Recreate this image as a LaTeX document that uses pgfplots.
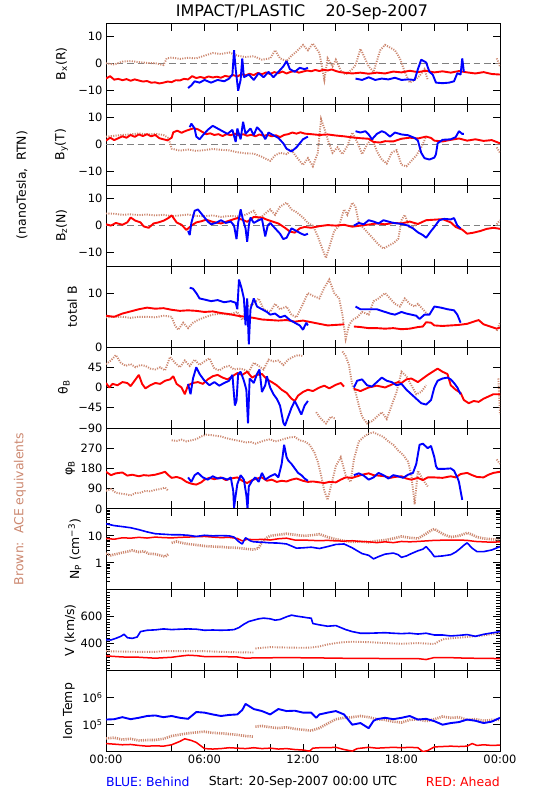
\documentclass[border=0pt]{standalone}
\usepackage{fontspec}
\setmainfont{DejaVu Sans}
\usepackage{pgfplots}
\pgfplotsset{compat=1.18}
\definecolor{acebrown}{RGB}{204,136,112}
\newcommand{\tfs}{\fontsize{11.5}{12}\selectfont}
\newcommand{\lfs}{\fontsize{12.5}{13}\selectfont}
\pgfplotsset{
  panel/.style={
    scale only axis, width=394bp, height=80.93bp, anchor=south west,
    xmin=0, xmax=24, xtick={0,6,12,18,24}, xticklabels={},
    extra x ticks={4,8,10,14,16,20,22}, extra x tick labels={},
    tick align=inside, major tick length=7.5bp, minor tick length=4bp,
    axis line style={line width=0.8bp},
    tick style={black, line width=0.8bp},
    tick label style={font=\tfs},
    ylabel style={font=\lfs, anchor=center},
    unbounded coords=jump, clip=true,
  },
  R/.style={red, line width=1.9bp, line join=bevel},
  B/.style={blue, line width=1.9bp, line join=bevel},
  Rt/.style={red, line width=1.5bp, line join=bevel},
  Bt/.style={blue, line width=1.6bp, line join=bevel},
  Br/.style={acebrown, line width=1.9bp, dash pattern=on 1.1bp off 1.3bp},
  Brw/.style={acebrown, line width=2.6bp, dash pattern=on 1.1bp off 1.1bp},
  Z/.style={gray, line width=0.8bp, dash pattern=on 6.5bp off 4bp},
}
\begin{document}
\begin{tikzpicture}
\path[use as bounding box] (0,0) rectangle (550bp,800bp);

% ---------------- Bx
\begin{axis}[panel, at={(106bp,695.77bp)}, ymin=-15, ymax=15, ytick={-10,0,10}, yticklabels={−10,0,10},
  ylabel={B\textsubscript{x}(R)}, ylabel style={at={(axis description cs:-0.113,0.5)}}]
\addplot[Z] coordinates {(0,0)(24,0)};
\addplot[Br] coordinates {(0,0.2)(0.5,-0.3)(1,0.8)(1.5,1)(2,0.6)(2.5,0.3)(3,0.2)(3.5,-0.5)(3.7,2)(4,2.3)(4.5,1.8)(5,2.2)(5.5,2)(6,3)(6.5,4)(7,3.6)(7.5,4.2)(8,3)(8.5,2.5)(9,2.8)(9.5,1.5)(10,2)(10.3,5)(10.6,2)(11,1)(11.3,3)(11.6,4.5)(12,7)(12.3,5)(12.6,7.5)(13,4)(13.3,-6)(13.5,2)(13.8,-1)(14,1.5)(14.3,-2.5)(14.6,-4)(15,-2)(15.2,-0.5)(15.5,5.5)(15.7,3)(16,-1)(16.3,-3)(16.7,5)(17,7)(17.3,6)(17.6,5)(17.9,2)(18.2,-3)(18.5,-7)(18.8,-6)(19.1,-4.5)(19.4,-2)(19.6,-6)(19.7,nan)(23.8,2)(24,-1)};
\addplot[R] coordinates {(0,-5.5)(0.25,-4.6)(0.5,-5.9)(0.75,-5.6)(1,-6.1)(1.25,-5.7)(1.5,-6.3)(1.75,-5.8)(2,-6.2)(2.25,-6.6)(2.5,-6.4)(2.75,-7)(3,-6.9)(3.25,-7.3)(3.5,-7)(3.75,-6.6)(4,-6.8)(4.25,-6.1)(4.5,-6.2)(4.75,-5.6)(5,-5.8)(5.25,-4.6)(5.5,-5.3)(5.75,-4.9)(6,-5.3)(6.25,-4.7)(6.5,-5.1)(6.75,-4.8)(7,-5.2)(7.25,-4.5)(7.5,-4.8)(7.75,-4.2)(8,-4.7)(8.25,-3.9)(8.5,-4.3)(8.75,-3.7)(9,-4.2)(9.25,-3.4)(9.5,-3.9)(9.75,-3.2)(10,-3.8)(10.25,-3.1)(10.5,-3.5)(10.75,-2.9)(11,-3.6)(11.25,-3)(11.5,-2.7)(11.75,-3.3)(12,-2.9)(12.25,-2.5)(12.5,-2.8)(12.75,-2.3)(13,-2.7)(13.25,-2.2)(13.5,-2.5)(13.75,-2.1)(14,-2.7)(14.25,-3.1)(14.5,-3.3)(15,-3.6)(15.5,-3.3)(16,-3.7)(16.5,-3.3)(17,-3.6)(17.5,-2.9)(18,-3.2)(18.5,-2.6)(19,-3.1)(19.5,-2.6)(20,-3.2)(20.5,-2.8)(21,-3.3)(21.5,-2.7)(22,-3.2)(22.5,-3.6)(23,-3.1)(23.5,-3.8)(24,-4)};
\addplot[B] coordinates {(5.0,-9)(5.2,-8)(5.4,-6.5)(5.7,-7)(6,-6)(6.4,-7)(6.8,-6)(7.2,-6.5)(7.5,-5.5)(7.7,-4)(7.8,5)(7.9,-2)(8.05,-10)(8.2,-6)(8.3,2)(8.4,-5)(8.7,-4)(9,-6)(9.3,-3.5)(9.6,-5)(9.9,-3)(10.2,-5)(10.5,-3)(10.8,-1)(11,1)(11.2,-2)(11.5,-3)(11.8,-1.5)(12.1,-2)(12.3,-1.5)(12.4,nan)(15.2,-5.5)(15.6,-6)(16,-5)(16.4,-6)(16.8,-5.5)(17.2,-5.8)(17.6,-5.2)(18,-6)(18.4,-5.8)(18.8,-6)(19,-2)(19.2,1.5)(19.5,0.5)(19.7,-3)(19.9,-4)(20.1,-7)(20.5,-7.2)(20.9,-7)(21.2,-6.5)(21.4,-3.5)(21.6,-4)(21.7,2)(21.8,-3)};
\end{axis}

% ---------------- By
\begin{axis}[panel, at={(106bp,614.84bp)}, ymin=-15, ymax=15, ytick={-10,0,10}, yticklabels={−10,0,10},
  ylabel={B\textsubscript{y}(T)}, ylabel style={at={(axis description cs:-0.113,0.5)}}]
\addplot[Z] coordinates {(0,0)(24,0)};
\addplot[Br] coordinates {(0,3)(0.5,3.3)(1,3.6)(1.5,3.8)(2,4.2)(2.5,3.8)(3,4)(3.5,3.6)(3.8,2.5)(4,-1.5)(4.5,-2.2)(5,-1.8)(5.5,-2.3)(6,-2)(6.5,-1.6)(7,-1.9)(7.5,-2.1)(8,-2.8)(8.5,-3.2)(9,-3.3)(9.5,-4.5)(10,-6)(10.3,-4)(10.6,-3)(11,-3.5)(11.3,-2)(11.6,-4.5)(12,-7.5)(12.3,-5)(12.6,-8)(12.9,-3)(13.1,9.5)(13.3,6)(13.5,2)(13.8,-3)(14.1,-1)(14.4,-3.5)(14.7,-0.5)(15,4.5)(15.3,1)(15.6,-3.5)(15.9,0)(16.2,2.5)(16.5,-2.5)(16.8,-5.5)(17.1,-7)(17.4,-3)(17.7,-2)(18,-7.5)(18.3,-8)(18.6,-6)(18.9,-4)(19.2,-1)(19.5,3)(19.6,nan)(23.8,-1)(24,-3)};
\addplot[R] coordinates {(0,1.5)(0.25,2.6)(0.5,1.7)(0.75,2.4)(1,3.1)(1.25,2.6)(1.5,3.6)(1.75,2.9)(2,3.8)(2.25,3.2)(2.5,3.9)(2.75,3.1)(3,3.6)(3.25,2.4)(3.5,2)(3.75,1.6)(4,2.6)(4.1,4.6)(4.35,5.2)(4.6,4.4)(4.85,5.1)(5.1,5.6)(5.35,6.1)(5.6,5.7)(5.85,4.8)(6.1,3.9)(6.35,4.2)(6.6,3.6)(6.85,3.9)(7.1,3.2)(7.35,3.9)(7.6,3.5)(7.85,4.1)(8.1,3.4)(8.35,3.9)(8.6,3.3)(8.85,3.7)(9.1,3.1)(9.35,3.8)(9.6,3.3)(9.85,3.6)(10.1,3.1)(10.35,3.5)(10.6,2.8)(10.85,3.6)(11.1,3.9)(11.35,4.5)(11.6,4.1)(11.85,4.6)(12.1,4.1)(12.5,3.9)(13,3.6)(13.5,3.8)(14,3.4)(14.5,3.1)(15,2.7)(15.5,2.4)(16,2.2)(16.3,1)(16.7,0.8)(17,1.3)(17.5,1.2)(18,2.2)(18.5,2.6)(19,2.3)(19.5,3)(19.8,2.5)(20,1.5)(20.5,1.2)(21,1.8)(21.5,2.3)(22,1.5)(22.5,2)(23,1.4)(23.5,1.7)(24,0.5)};
\addplot[B] coordinates {(5.1,6.5)(5.2,7.8)(5.4,6)(5.5,3)(5.7,2)(5.9,3.5)(6.2,5.5)(6.5,7)(6.8,6)(7.1,5)(7.4,4)(7.7,5.5)(7.9,1)(8.0,6)(8.2,2)(8.35,8.5)(8.5,4)(8.8,6)(9,3.5)(9.2,6.5)(9.5,4.5)(9.7,2)(9.9,4.5)(10.2,3.5)(10.5,2.5)(10.8,0.5)(11,-1.5)(11.3,-2.5)(11.6,-1)(11.8,0.5)(12,2)(12.3,3)(12.4,nan)(15.2,5)(15.5,4.5)(15.8,5)(16,3.8)(16.2,2)(16.5,4)(16.8,5)(17,4.5)(17.3,3)(17.6,4.5)(18,3.8)(18.4,3.5)(18.8,2.5)(19,1.5)(19.2,-3)(19.4,-5)(19.7,-5.5)(20,-4.8)(20.1,-3.5)(20.2,0.5)(20.5,1.8)(21,2)(21.3,2.8)(21.5,5)(21.7,4)(21.8,4)};
\end{axis}

% ---------------- Bz
\begin{axis}[panel, at={(106bp,533.91bp)}, ymin=-15, ymax=15, ytick={-10,0,10}, yticklabels={−10,0,10},
  ylabel={B\textsubscript{z}(N)}, ylabel style={at={(axis description cs:-0.113,0.5)}}]
\addplot[Z] coordinates {(0,0)(24,0)};
\addplot[Br] coordinates {(0,4.5)(0.5,4.4)(1,4)(1.5,4.2)(2,3.9)(2.5,4.1)(3,3.8)(3.5,4)(4,3.5)(4.5,3.8)(5,4.1)(5.5,3.6)(6,3.5)(6.5,3.8)(7,3.2)(7.5,3.6)(8,3.4)(8.5,4)(9,5.5)(9.3,2)(9.6,4)(10,6)(10.3,4)(10.6,7)(11,8.5)(11.3,6)(11.6,5)(12,3)(12.3,1)(12.6,0)(12.9,-4)(13.2,-9)(13.4,-12)(13.6,-8)(13.9,-2)(14.2,0)(14.5,6)(14.7,4)(15,8.5)(15.2,7)(15.4,1)(15.7,-1)(16,-3)(16.3,-5)(16.6,-7)(16.9,-8.5)(17.2,-7.5)(17.5,-6.5)(17.8,-5)(18,2)(18.2,4)(18.5,-1)(18.8,0)(19,1)(19.1,nan)(23.8,0.5)(24,2)};
\addplot[R] coordinates {(0,0.5)(0.3,0)(0.6,1)(1,0.3)(1.3,1.2)(1.5,3)(1.8,1.8)(2.1,1.2)(2.3,-0.3)(2.6,-0.8)(2.9,0.8)(3.2,1.2)(3.5,1.8)(3.8,2.8)(4,3.8)(4.3,1.2)(4.6,0.3)(4.9,-1.6)(5.2,0)(5.5,1.2)(5.8,1.6)(6.1,2.2)(6.5,1.4)(7,0.8)(7.5,1.8)(8,2.8)(8.3,2.2)(8.6,1.4)(9,3.2)(9.5,3)(9.8,2.2)(10.1,1.6)(10.5,0.8)(10.9,-0.8)(11.2,-2.2)(11.5,-2.6)(11.8,-1)(12.1,-0.5)(12.5,-0.8)(13,-0.2)(13.5,0.2)(14,0)(14.5,0.3)(15,-0.4)(15.5,0)(16,0.4)(16.5,0.8)(17,0.5)(17.5,1)(18,0.8)(18.5,1.5)(19,0.6)(19.5,2)(20,2.2)(20.5,2.4)(21,1.2)(21.3,-0.5)(21.7,-1.5)(22,-3)(22.4,-2.6)(22.8,-2)(23.2,-1.2)(23.6,-0.8)(24,-1.2)};
\addplot[B] coordinates {(5.0,-2)(5.1,-3.5)(5.2,1)(5.4,5.5)(5.6,6)(5.8,4.5)(6,3)(6.2,1.5)(6.4,0.5)(6.7,1)(7,2)(7.3,1)(7.6,1.5)(7.8,0)(7.95,-5)(8.05,1)(8.2,6)(8.35,2)(8.5,-1)(8.6,-6)(8.7,0)(8.8,3)(9,1)(9.3,2)(9.5,2.5)(9.7,-4)(9.85,0)(10,1)(10.3,-1)(10.6,-3)(10.8,-5)(11,-4.5)(11.3,-1)(11.6,-2)(11.9,-3)(12.1,-3.5)(12.3,-3)(12.4,nan)(15.1,0)(15.4,1)(15.7,0.5)(16,2)(16.3,1.5)(16.6,0.8)(16.9,2)(17.2,1.5)(17.5,1)(17.8,0.8)(18.1,0.5)(18.4,0)(18.7,-1)(19,-2.5)(19.3,-3.5)(19.5,-4.5)(19.8,-2)(20,-0.5)(20.3,2)(20.6,2.5)(21,2.3)(21.2,2.8)(21.4,0)(21.6,-1)};
\end{axis}

% ---------------- total B
\begin{axis}[panel, at={(106bp,452.98bp)}, ymin=0, ymax=15, ytick={0,10}, yticklabels={0,10},
  ylabel={total B}, ylabel style={at={(axis description cs:-0.086,0.5)}}]
\addplot[Br] coordinates {(0,5.5)(0.5,5.6)(1,5.6)(1.5,5.4)(2,5.6)(2.5,5.6)(3,5.5)(3.5,5.8)(4,5.6)(4.2,4)(4.4,3.2)(4.7,4.5)(5,3.5)(5.3,4.5)(5.6,5)(6,5.5)(6.5,6)(7,6.2)(7.5,6)(8,6.5)(8.3,5)(8.6,7.5)(9,8)(9.3,9)(9.6,7)(10,6.5)(10.3,8)(10.6,7)(11,7.5)(11.3,6)(11.6,5.5)(12,8)(12.3,10)(12.6,9.5)(13,9)(13.3,11)(13.6,12.5)(13.9,10)(14.2,9)(14.4,6)(14.6,1.5)(14.8,4)(15,5)(15.3,5.5)(15.6,6.5)(16,6)(16.3,8.5)(16.6,9)(17,10)(17.3,9)(17.6,8)(17.9,7.5)(18.2,9)(18.5,8)(18.8,7.5)(19,8)(19.3,7)(19.6,6)(19.7,nan)(23.8,3)(24,4.5)};
\addplot[R] coordinates {(0,5.8)(0.5,5.6)(1,6.2)(1.5,6.6)(2,7)(2.5,7.3)(3,7.1)(3.5,7.2)(4,6.9)(4.5,6.7)(5,6.8)(5.5,6.7)(6,6.5)(6.5,6.6)(7,6.3)(7.5,6.1)(8,5.8)(8.5,5.6)(9,5.4)(9.5,5.1)(10,5)(10.5,4.9)(11,5)(11.5,4.7)(12,4.9)(12.5,4.6)(13,4.3)(13.5,4)(14,4.1)(14.5,4.2)(14.6,nan)(15.1,3.8)(15.5,3.7)(16,3.5)(16.5,3.5)(17,3.4)(17.5,3.5)(18,3.3)(18.5,3.4)(19,3.7)(19.3,3.8)(19.5,4.6)(19.8,4.5)(20,4)(20.5,3.9)(21,4)(21.5,4.1)(22,4.3)(22.3,4.6)(22.7,5)(23,4.2)(23.4,3.8)(23.8,3.4)(24,3.6)};
\addplot[B] coordinates {(5.1,11)(5.3,10.8)(5.5,10)(5.7,9)(6,8.8)(6.4,8.5)(6.8,8.7)(7.2,8.3)(7.6,8.5)(7.9,8.2)(8.0,7)(8.1,12.5)(8.25,11)(8.4,9)(8.5,4)(8.6,9)(8.7,0.5)(8.8,7)(9,9)(9.2,7.5)(9.5,7)(9.8,6.5)(10,6)(10.3,6.2)(10.6,5.5)(10.9,5.8)(11.2,5)(11.5,4.5)(11.8,4)(12,3.2)(12.2,4.5)(12.3,4)(12.4,nan)(15.2,7.5)(15.5,7)(16,7)(16.5,7)(17,6.5)(17.3,6.2)(17.6,6)(18,6.5)(18.3,6.2)(18.6,6)(18.9,5.8)(19.1,5.2)(19.4,6)(19.7,6)(20,7.5)(20.4,7.3)(20.8,7)(21.2,6.8)(21.4,6)(21.6,4.5)};
\end{axis}

% ---------------- theta
\begin{axis}[panel, at={(106bp,372.05bp)}, ymin=-90, ymax=90, ytick={-90,-45,0,45}, yticklabels={−90,−45,0,45},
  ylabel={θ\textsubscript{B}}, ylabel style={at={(axis description cs:-0.107,0.5)}}]
\addplot[Br] coordinates {(0,52)(0.3,60)(0.6,72)(0.9,55)(1.2,48)(1.5,52)(1.8,45)(2.1,50)(2.4,48)(2.7,42)(3,40)(3.3,45)(3.6,38)(3.9,68)(4.2,55)(4.5,45)(4.8,60)(5.1,48)(5.4,62)(5.7,50)(6,58)(6.3,65)(6.6,42)(6.9,38)(7.2,45)(7.5,48)(7.8,40)(8.1,42)(8.4,40)(8.7,35)(9,55)(9.3,48)(9.6,40)(9.9,62)(10.2,58)(10.5,60)(10.8,50)(11.1,62)(11.4,68)(11.7,72)(12,70)(12.2,nan)(12.8,-55)(13.1,-70)(13.4,-80)(13.7,-65)(14,-70)(14.2,nan)(14.4,80)(14.6,70)(14.8,50)(15,5)(15.2,-10)(15.4,-40)(15.6,-65)(15.9,-80)(16.2,-75)(16.5,-65)(16.8,-55)(17.1,-70)(17.4,-40)(17.7,-10)(18,35)(18.3,25)(18.6,5)(18.9,-15)(19.2,-10)(19.5,5)(19.6,nan)(23.9,20)(24,-60)};
\addplot[R] coordinates {(0,10)(0.2,0)(0.4,8)(0.7,5)(1,12)(1.3,10)(1.5,3)(1.8,18)(2,28)(2.2,8)(2.4,-2)(2.7,5)(3,10)(3.3,8)(3.6,15)(3.9,18)(4.1,25)(4.3,8)(4.6,0)(4.8,-15)(5,5)(5.3,10)(5.6,12)(5.9,8)(6.2,18)(6.5,25)(6.8,28)(7.1,22)(7.4,18)(7.7,25)(8,32)(8.3,28)(8.6,35)(8.9,22)(9.2,28)(9.5,30)(9.8,18)(10.1,12)(10.4,5)(10.7,-5)(11,-12)(11.3,-25)(11.5,-30)(11.7,-18)(12,-10)(12.3,-5)(12.6,-8)(13,0)(13.3,4)(13.6,-2)(14,6)(14.3,10)(14.5,2)(14.6,nan)(15.1,-3)(15.5,-8)(16,0)(16.5,4)(17,0)(17.5,8)(17.8,12)(18,10)(18.3,18)(18.6,20)(19,12)(19.3,20)(19.6,28)(19.9,35)(20.2,42)(20.5,35)(20.8,30)(21,5)(21.3,-5)(21.6,-12)(21.8,-28)(22.1,-35)(22.4,-30)(22.7,-32)(23,-25)(23.3,-20)(23.6,-15)(24,-15)};
\addplot[B] coordinates {(5,8)(5.15,-15)(5.3,20)(5.5,45)(5.7,30)(6,15)(6.3,5)(6.6,12)(6.9,4)(7.2,10)(7.5,15)(7.7,28)(7.85,-40)(7.95,-30)(8.05,30)(8.2,35)(8.4,15)(8.55,-5)(8.65,-80)(8.75,20)(9,10)(9.2,30)(9.35,40)(9.5,-10)(9.7,5)(9.8,25)(10,0)(10.2,-15)(10.4,-25)(10.6,-40)(10.8,-78)(10.9,-85)(11.1,-65)(11.3,-45)(11.5,-30)(11.7,-45)(11.9,-60)(12.1,-40)(12.3,-30)(12.4,nan)(15.1,0)(15.3,15)(15.6,18)(15.9,5)(16.2,2)(16.5,12)(16.8,22)(17.1,15)(17.4,12)(17.7,5)(18,8)(18.3,-5)(18.6,-15)(18.9,-25)(19.2,-35)(19.5,-38)(19.8,-28)(20,0)(20.2,15)(20.5,20)(20.8,22)(21,18)(21.2,10)(21.4,0)(21.6,-15)};
\end{axis}

% ---------------- phi
\begin{axis}[panel, at={(106bp,291.12bp)}, ymin=0, ymax=360, ytick={0,90,180,270}, yticklabels={0,90,180,270},
  ylabel={φ\textsubscript{B}}, ylabel style={at={(axis description cs:-0.091,0.5)}}]
\addplot[Br] coordinates {(0,80)(0.3,88)(0.6,72)(0.9,68)(1.2,65)(1.5,60)(1.8,70)(2.1,72)(2.4,80)(2.7,78)(3,85)(3.3,88)(3.6,95)(3.8,80)(3.9,nan)(4,305)(4.3,302)(4.6,308)(4.9,300)(5.2,305)(5.5,310)(5.8,322)(6.1,330)(6.4,328)(6.7,325)(7,322)(7.3,315)(7.6,310)(7.9,305)(8.2,302)(8.5,295)(8.8,298)(9.1,290)(9.4,298)(9.7,305)(10,310)(10.3,300)(10.6,305)(10.9,312)(11.2,318)(11.5,320)(11.8,305)(12.1,300)(12.4,285)(12.7,250)(12.9,210)(13.1,150)(13.3,80)(13.5,40)(13.7,100)(14,190)(14.3,230)(14.6,150)(14.9,120)(15.1,220)(15.4,300)(15.7,320)(16,335)(16.3,340)(16.6,330)(16.9,320)(17.2,300)(17.5,285)(17.8,260)(18.1,240)(18.4,210)(18.6,150)(18.8,20)(19,170)(19.3,130)(19.6,100)(19.7,nan)(23.8,220)(24,200)};
\addplot[R] coordinates {(0,165)(0.3,150)(0.6,158)(1,162)(1.3,148)(1.6,152)(2,145)(2.3,150)(2.6,148)(3,152)(3.3,158)(3.6,165)(3.8,150)(4,138)(4.3,142)(4.6,135)(4.9,120)(5.2,112)(5.5,108)(5.8,118)(6,130)(6.3,138)(6.6,132)(7,140)(7.3,128)(7.6,135)(8,140)(8.3,125)(8.6,115)(8.9,128)(9.2,135)(9.5,140)(9.8,125)(10.1,130)(10.4,120)(10.7,125)(11,122)(11.3,130)(11.6,135)(12,125)(12.3,120)(12.6,122)(13,118)(13.3,115)(13.6,120)(14,118)(14.3,130)(14.6,140)(15,138)(15.3,145)(15.6,152)(16,158)(16.3,150)(16.6,148)(17,145)(17.3,138)(17.6,142)(18,145)(18.3,135)(18.6,130)(19,138)(19.3,128)(19.6,140)(20,140)(20.5,138)(21,145)(21.3,140)(21.6,155)(22,160)(22.3,150)(22.6,142)(23,140)(23.3,152)(23.6,160)(24,165)};
\addplot[B] coordinates {(5,140)(5.2,120)(5.4,150)(5.6,160)(5.9,140)(6.2,130)(6.5,145)(6.8,135)(7.1,138)(7.4,130)(7.6,140)(7.75,80)(7.8,5)(7.9,60)(8,110)(8.2,150)(8.4,130)(8.55,60)(8.62,0)(8.7,100)(8.9,125)(9.1,140)(9.3,120)(9.5,160)(9.7,130)(10,145)(10.3,155)(10.5,140)(10.7,200)(10.85,285)(11,230)(11.1,215)(11.3,200)(11.5,180)(11.7,160)(11.9,150)(12.1,135)(12.3,125)(12.4,nan)(15.1,150)(15.4,158)(15.7,148)(16,130)(16.3,140)(16.6,160)(16.9,150)(17.2,135)(17.5,150)(17.8,145)(18.1,138)(18.4,152)(18.7,160)(18.9,200)(19.1,285)(19.3,290)(19.6,270)(19.8,280)(20,230)(20.1,190)(20.2,178)(20.6,178)(21,180)(21.2,170)(21.4,140)(21.5,120)(21.7,40)};
\end{axis}

% ---------------- Np
\begin{axis}[panel, at={(106bp,210.19bp)}, ymode=log, ymin=0.1, ymax=100, ytick={0.1,1,10,100}, yticklabels={,1,10,},
  ylabel={N\textsubscript{P} (cm\textsuperscript{−3})}, ylabel style={at={(axis description cs:-0.079,0.5)}}]
\addplot[Brw] coordinates {(0,2.2)(0.3,1.9)(0.6,2.1)(1,2.4)(1.3,2.6)(1.6,2.9)(2,2.5)(2.3,2.7)(2.6,2.2)(3,2.1)(3.3,1.9)(3.6,1.7)(3.8,2.1)(3.9,nan)(4,5.5)(4.3,6.2)(4.6,5.5)(5,5)(5.5,4.6)(6,4.2)(6.5,4)(7,3.9)(7.5,3.7)(8,3.6)(8.5,3.3)(9,3.1)(9.3,3.5)(9.5,6)(9.8,8.5)(10,10)(10.5,11)(11,12)(11.5,11)(12,10)(12.5,10.5)(13,11.5)(13.5,9)(14,7.5)(14.5,6.5)(15,6)(15.5,6.2)(16,5.8)(16.5,6.5)(17,7)(17.5,8)(18,9.5)(18.5,8.5)(19,8)(19.5,12)(19.8,16)(20,18)(20.3,14)(20.6,11)(21,9)(21.5,10)(22,13)(22.3,11)(22.6,9)(23,8)(23.5,7.5)(24,7)};
\addplot[Rt] coordinates {(0,8)(0.5,7.5)(1,8.5)(1.5,8.2)(2,8.8)(2.5,8.3)(3,9)(3.5,8.6)(4,8.4)(4.5,8.8)(5,9)(5.5,9.3)(6,9.5)(6.5,9)(7,8.6)(7.5,8.8)(8,8)(8.3,6.5)(8.6,7.5)(9,7.2)(9.5,7.4)(10,7)(10.5,7.8)(11,8.2)(11.5,7)(12,7)(12.5,6.8)(13,6.6)(13.5,6.8)(14,6.5)(14.5,6.4)(15,6.6)(15.5,6.2)(16,6)(16.5,5.6)(17,6)(17.5,5.6)(18,6.2)(18.5,6)(19,6.2)(19.5,6.5)(20,6.8)(20.5,6.9)(21,7)(21.5,7)(22,6.8)(22.5,6.2)(23,6)(23.5,5.8)(24,6)};
\addplot[Bt] coordinates {(0,28)(0.5,24)(1,22)(1.5,20)(2,17)(2.5,14)(3,12)(3.5,11.5)(4,11)(4.5,11)(5,10.5)(5.5,9.5)(6,10.5)(6.5,10)(7,10.2)(7.5,10)(7.8,9)(8.1,6)(8.3,5)(8.5,8.5)(8.8,6.5)(9,6)(9.5,5.8)(10,5.5)(10.5,5.4)(11,5)(11.3,4.2)(11.6,3.5)(12,3.6)(12.5,3.8)(13,3.4)(13.5,4)(14,4.8)(14.5,5)(15,3.6)(15.3,2.8)(15.6,2.2)(16,1.9)(16.3,1.4)(16.6,1.7)(17,2.1)(17.5,2.3)(17.8,2)(18,1.6)(18.3,1.8)(18.6,2.2)(19,2.8)(19.3,3.2)(19.5,4)(19.8,2.5)(20,1.7)(20.5,1.8)(21,2)(21.3,2.5)(21.6,3.5)(21.8,4.5)(22,5.5)(22.3,3.5)(22.6,2.6)(23,2.6)(23.5,3)(24,4)};
\end{axis}

% ---------------- V
\begin{axis}[panel, at={(106bp,129.26bp)}, ymin=200, ymax=800, ytick={200,400,600,800}, yticklabels={,400,600,}, minor y tick num=9,
  ylabel={V (km/s)}, ylabel style={at={(axis description cs:-0.091,0.5)}}]
\addplot[Br] coordinates {(0,345)(1,342)(2,340)(3,340)(3.5,345)(4,345)(5,346)(6,345)(7,340)(8,337)(9,335)(9.05,nan)(9.1,365)(9.5,370)(10,375)(11,372)(12,370)(12.5,372)(13,380)(13.5,395)(14,405)(14.5,412)(15,415)(16,412)(17,405)(18,400)(19,405)(20,398)(20.3,420)(20.6,435)(21,440)(22,450)(23,462)(24,480)};
\addplot[Rt] coordinates {(0,310)(1,302)(2,300)(3,293)(4,300)(4.5,308)(5,315)(5.5,312)(6,305)(7,305)(8,302)(8.5,293)(9,295)(10,296)(11,298)(12,296)(13,295)(14,293)(15,292)(16,292)(17,290)(18,290)(19,290)(19.5,283)(20,298)(21,297)(22,293)(23,292)(24,290)};
\addplot[Bt] coordinates {(0,430)(0.3,428)(0.6,440)(0.9,455)(1.1,470)(1.3,445)(1.6,440)(1.9,450)(2.1,490)(2.5,500)(3,503)(3.5,510)(4,505)(4.5,508)(5,510)(5.5,508)(6,500)(6.5,502)(7,500)(7.5,502)(7.8,505)(8.1,520)(8.4,545)(8.7,565)(9,575)(9.3,585)(9.6,590)(10,585)(10.3,575)(10.6,580)(11,600)(11.3,612)(11.6,605)(12,598)(12.3,592)(12.5,590)(12.6,550)(13,540)(13.5,530)(14,535)(14.3,520)(14.6,505)(15,490)(15.5,478)(16,478)(16.5,480)(17,482)(17.5,478)(18,475)(18.5,478)(19,472)(19.5,478)(20,465)(20.5,465)(21,458)(21.5,462)(22,468)(22.5,455)(23,470)(23.5,480)(24,490)};
\end{axis}

% ---------------- Ion Temp
\begin{axis}[panel, at={(106bp,48.33bp)}, ymode=log, ymin=1e4, ymax=1e7, ytick={1e4,1e5,1e6,1e7},
  yticklabels={,10\textsuperscript{5},10\textsuperscript{6},}, yminorticks=false,
  xticklabels={00:00,06:00,12:00,18:00,00:00},
  ylabel={Ion Temp}, ylabel style={at={(axis description cs:-0.094,0.5)}}]
\addplot[Brw] coordinates {(0,3.1e4)(0.5,3.3e4)(1,2.8e4)(1.5,3.0e4)(2,2.6e4)(2.5,2.7e4)(3,2.7e4)(3.5,3.0e4)(4,3.8e4)(4.5,4.3e4)(5,4.8e4)(5.5,5.2e4)(6,5.5e4)(6.5,5.0e4)(7,4.8e4)(7.5,4.5e4)(8,4.2e4)(8.5,3.8e4)(9,3.6e4)(9.05,nan)(9.1,8.5e4)(9.5,9.0e4)(10,8.0e4)(10.5,7.5e4)(11,8.0e4)(11.5,7.0e4)(12,6.5e4)(12.5,6.0e4)(13,7.5e4)(13.5,1.1e5)(14,1.6e5)(14.5,1.8e5)(15,1.9e5)(15.5,2.1e5)(16,1.9e5)(16.5,1.6e5)(17,1.5e5)(17.5,1.3e5)(18,1.2e5)(18.5,1.5e5)(19,1.6e5)(19.5,1.35e5)(20,1.6e5)(20.5,2.0e5)(21,1.8e5)(21.5,1.9e5)(22,1.5e5)(22.5,1.6e5)(23,1.4e5)(23.5,1.5e5)(24,1.5e5)};
\addplot[Rt] coordinates {(0,2.0e4)(0.5,1.9e4)(1,1.8e4)(1.5,1.85e4)(2,1.7e4)(2.5,1.6e4)(3,1.65e4)(3.5,1.6e4)(4,1.8e4)(4.5,2.4e4)(4.8,3.0e4)(5.2,2.6e4)(5.5,2.2e4)(5.8,1.6e4)(6,1.3e4)(6.5,1.25e4)(7,1.3e4)(7.5,1.4e4)(8,1.35e4)(8.5,1.3e4)(9,1.4e4)(9.5,1.3e4)(10,1.35e4)(10.5,1.25e4)(11,1.3e4)(11.5,1.2e4)(12,1.15e4)(12.4,1.05e4)(12.6,1.35e4)(13,1.4e4)(13.5,1.4e4)(14,1.45e4)(14.5,1.2e4)(15,1.05e4)(15.3,1.3e4)(16,1.45e4)(16.5,1.35e4)(17,1.4e4)(17.5,1.45e4)(18,1.4e4)(18.5,1.45e4)(19,1.4e4)(19.3,1.0e4)(19.6,1.1e4)(20,1.5e4)(20.5,1.55e4)(21,1.6e4)(21.5,1.55e4)(22,1.6e4)(22.3,2.0e4)(22.6,1.7e4)(23,1.8e4)(23.5,1.7e4)(24,1.75e4)};
\addplot[Bt, line width=1.9bp] coordinates {(0,1.55e5)(0.5,1.6e5)(1,1.9e5)(1.5,1.6e5)(2,1.8e5)(2.5,2.1e5)(3,2.2e5)(3.5,1.9e5)(4,2.1e5)(4.5,1.8e5)(5,1.65e5)(5.5,2.95e5)(6,2.8e5)(6.5,2.4e5)(7,2.1e5)(7.5,2.3e5)(8,2.4e5)(8.3,3.5e5)(8.5,5.9e5)(9,3.8e5)(9.5,3.2e5)(10,2.4e5)(10.5,3.8e5)(11,3.2e5)(11.5,3.3e5)(12,2.8e5)(12.5,2.8e5)(12.8,1.8e5)(13,2.4e5)(13.5,2.8e5)(14,3.2e5)(14.5,2.4e5)(15,1.0e5)(15.5,1.15e5)(16,7.4e4)(16.3,1.4e5)(16.5,1.6e5)(17,1.8e5)(17.5,1.6e5)(18,1.8e5)(18.5,2.1e5)(19,1.55e5)(19.5,1.65e5)(20,1.35e5)(20.5,1.0e5)(21,1.15e5)(21.5,1.25e5)(22,1.55e5)(22.5,1.4e5)(23,1.15e5)(23.5,1.3e5)(24,1.8e5)};
\end{axis}

% ---------------- texts
\node[font=\fontsize{16}{17}\selectfont] at (302bp,788bp) {IMPACT/PLASTIC\ \ \ \ 20-Sep-2007};
\node[font=\lfs, rotate=90] at (22bp,615bp) {(nanoTesla,\ \ RTN)};
\node[font=\lfs, rotate=90, text=acebrown] at (20bp,291bp) {Brown:\ \ ACE equivalents};
\node[font=\lfs, text=blue, anchor=west, inner sep=0pt] at (106bp,18bp) {BLUE:\ Behind};
\node[font=\lfs, inner sep=0pt] at (303bp,18bp) {Start: 20-Sep-2007 00:00 UTC};
\node[font=\lfs, text=red, anchor=east, inner sep=0pt] at (500bp,18bp) {RED:\ Ahead};
\end{tikzpicture}
\end{document}
